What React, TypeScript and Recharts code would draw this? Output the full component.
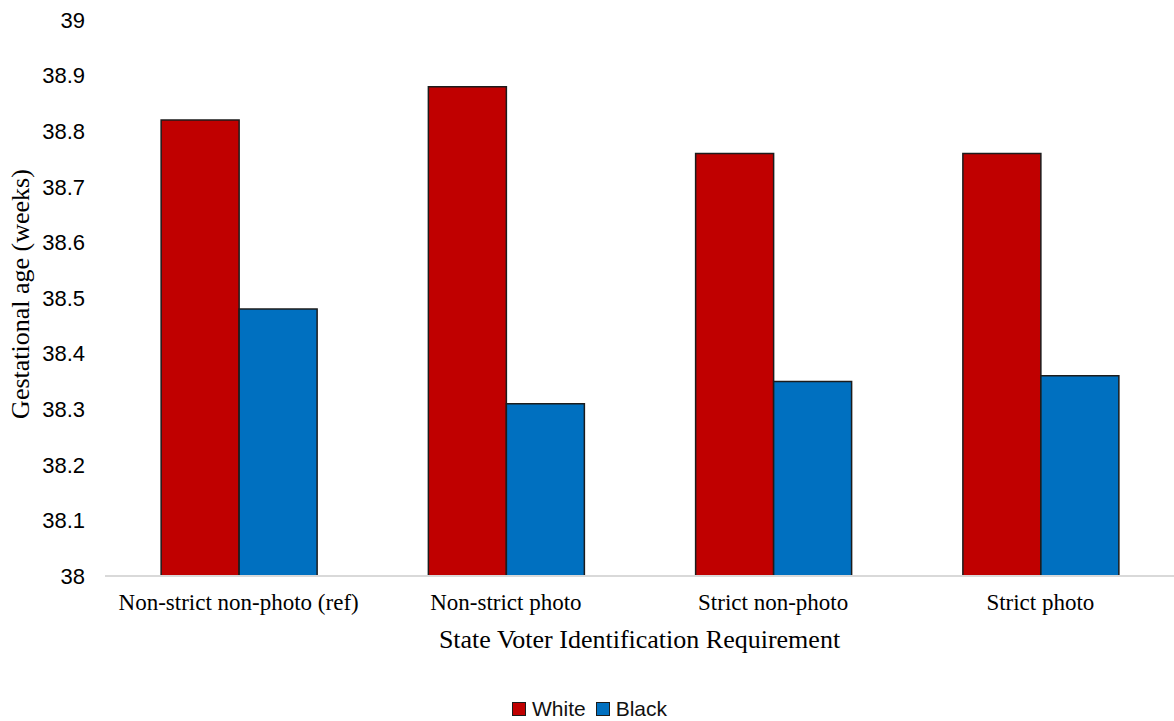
import React from 'react';
import { BarChart, Bar, XAxis, YAxis, Legend } from 'recharts';

// categories and group means (weeks)
const requirements = ['Non-strict non-photo (ref)', 'Non-strict photo', 'Strict non-photo', 'Strict photo'];
const whiteMeans = [38.82, 38.88, 38.76, 38.76];
const blackMeans = [38.48, 38.31, 38.35, 38.36];
const yTicks = [38, 38.1, 38.2, 38.3, 38.4, 38.5, 38.6, 38.7, 38.8, 38.9, 39];

const colors = {
  white: '#C00000',
  black: '#0070C0',
  outline: '#1c1c1c',
  axis: '#d9d9d9',
};

const data = requirements.map((name, i) => ({
  name,
  White: whiteMeans[i],
  Black: blackMeans[i],
}));

const serif = '"Liberation Serif", "Times New Roman", serif';
const sans = '"Liberation Sans", Arial, sans-serif';

const LegendContent = () => {
  const items = [
    { label: 'White', color: colors.white },
    { label: 'Black', color: colors.black },
  ];
  return (
    <div style={{ display: 'flex', alignItems: 'center', gap: 10, fontFamily: sans, fontSize: 21, color: '#111' }}>
      {items.map((it) => (
        <div key={it.label} style={{ display: 'flex', alignItems: 'center', gap: 6 }}>
          <div style={{ width: 12, height: 12, background: it.color, border: `1.5px solid ${colors.outline}` }} />
          <span>{it.label}</span>
        </div>
      ))}
    </div>
  );
};

export default function App() {
  return (
    <div style={{ position: 'absolute', left: 0, top: 0, width: 1174, height: 721, background: '#fff' }}>
      <BarChart
        width={1174}
        height={721}
        data={data}
        margin={{ top: 20, right: 0, left: 0, bottom: 65 }}
        barCategoryGap="21%"
        barGap={0}
      >
        <XAxis
          dataKey="name"
          height={80}
          tickLine={false}
          tickMargin={12}
          axisLine={{ stroke: colors.axis, strokeWidth: 2 }}
          tick={{ fill: '#000', fontSize: 23, fontFamily: serif }}
          interval={0}
          label={{
            value: 'State Voter Identification Requirement',
            position: 'insideBottom',
            offset: 8,
            fill: '#000',
            fontSize: 26,
            fontFamily: serif,
          }}
        />
        <YAxis
          width={105}
          domain={[38, 39]}
          ticks={yTicks}
          allowDataOverflow
          axisLine={false}
          tickLine={false}
          tickMargin={14}
          tick={{ fill: '#000', fontSize: 22, fontFamily: sans }}
          label={{
            value: 'Gestational age (weeks)',
            angle: -90,
            position: 'center',
            dx: -33,
            dy: -4,
            fill: '#000',
            fontSize: 26,
            fontFamily: serif,
          }}
        />
        <Legend
          layout="horizontal"
          verticalAlign="middle"
          align="center"
          content={<LegendContent />}
          wrapperStyle={{ top: 697, left: 512, width: 'auto' }}
        />
        <Bar dataKey="White" fill={colors.white} stroke={colors.outline} strokeWidth={1.5} isAnimationActive={false} />
        <Bar dataKey="Black" fill={colors.black} stroke={colors.outline} strokeWidth={1.5} isAnimationActive={false} />
      </BarChart>
    </div>
  );
}
